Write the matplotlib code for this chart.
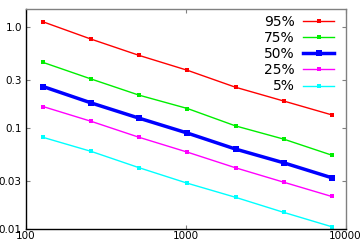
import matplotlib
matplotlib.use("Agg")
import matplotlib.pyplot as plt
from matplotlib.ticker import FixedLocator, NullLocator

# Data
sizes = [128, 256, 512, 1024, 2048, 4096, 8192]
p95 = [1.12, 0.755, 0.521, 0.372, 0.253, 0.185, 0.135]
p75 = [0.445, 0.305, 0.211, 0.156, 0.105, 0.0778, 0.054]
p50 = [0.257, 0.177, 0.125, 0.0892, 0.062, 0.0454, 0.0323]
p25 = [0.163, 0.1165, 0.0809, 0.0578, 0.0405, 0.0292, 0.0211]
p5 = [0.0809, 0.0588, 0.0405, 0.0285, 0.0207, 0.0147, 0.0106]

labels = ['95%', '75%', '50%', '25%', '5%']
series = [p95, p75, p50, p25, p5]
colors = ['#ff0000', '#00ee00', '#0000ff', '#ff00ff', '#00ffff']
widths = [1.0, 1.0, 2.5, 1.0, 1.0]
msizes = [3.5, 3.5, 5, 3.5, 3.5]

xticks = [100, 1000, 10000]
yticks = [0.01, 0.03, 0.1, 0.3, 1.0]
yticklabels = ['0.01', '0.03', '0.1', '0.3', '1.0']

fig = plt.figure(figsize=(3.6, 2.48), dpi=100)
ax = fig.add_axes([26/360, 1 - 229.3/248, (345.6 - 26)/360, (229.3 - 9)/248])

for vals, lab, c, lw, ms in zip(series, labels, colors, widths, msizes):
    ax.plot(sizes, vals, color=c, linewidth=lw, marker='s', markersize=ms,
            markeredgewidth=0, label=lab)

ax.set_xscale('log')
ax.set_yscale('log')
ax.set_xlim(100, 10000)
ax.set_ylim(0.01, 1.5)

ax.xaxis.set_major_locator(FixedLocator(xticks))
ax.xaxis.set_minor_locator(NullLocator())
ax.set_xticklabels([str(t) for t in xticks])
ax.yaxis.set_major_locator(FixedLocator(yticks))
ax.yaxis.set_minor_locator(NullLocator())
ax.set_yticklabels(yticklabels)

ax.tick_params(direction='in', length=3, width=0.8, top=True, right=True,
               labelsize=7.5, colors='#808080', labelcolor='black')
ax.tick_params(axis='x', pad=1)
ax.tick_params(axis='y', pad=3)

ax.spines['left'].set_color('black')
ax.spines['bottom'].set_color('black')
ax.spines['top'].set_color('#808080')
ax.spines['right'].set_color('#808080')
for s in ax.spines.values():
    s.set_linewidth(1.0)

ax.legend(loc='upper right', frameon=False, markerfirst=False, fontsize=10,
          handlelength=2.3, handletextpad=0.55, labelspacing=0.15,
          borderaxespad=0.4, bbox_to_anchor=(1.0, 1.023))

plt.savefig('out.png', dpi=100)
